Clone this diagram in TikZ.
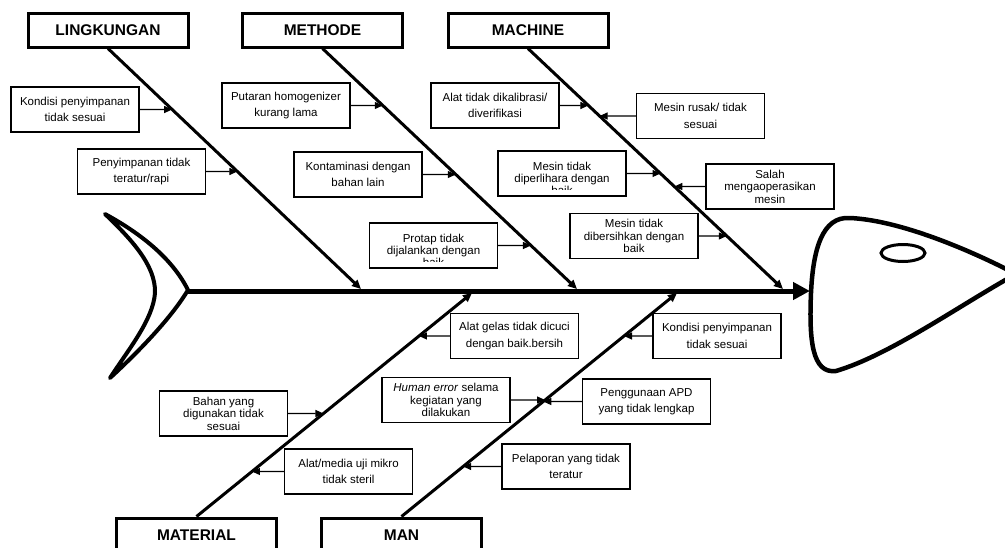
\documentclass[tikz,border=0pt]{standalone}
\usepackage{fontspec}
\setmainfont{Liberation Sans}
\usetikzlibrary{arrows.meta}

\tikzset{
  category/.style={draw, line width=3pt, minimum width=160pt, minimum height=34pt, inner sep=0pt,
    font=\bfseries\fontsize{15.5}{18}\selectfont},
  cause/.style={draw, line width=1.2pt, minimum width=128pt, minimum height=45pt, inner sep=1pt,
    align=center, font=\fontsize{11.5}{16.5}\selectfont},
  causethree/.style={cause, font=\fontsize{11.5}{12.5}\selectfont},
  causelines/.style={align=center, inner sep=0pt, font=\fontsize{11.5}{12}\selectfont},
  bone/.style={line width=3pt, -{Triangle[length=9pt,width=8pt]}},
  feed/.style={line width=1.1pt, -{Triangle[length=8pt,width=7pt]}},
}

\begin{document}
\begin{tikzpicture}[x=1pt, y=-1pt]
    \path[use as bounding box, clip] (0,0) rectangle (1005,547);

    \node[category] (lingk) at (108,30) {LINGKUNGAN};
    \node[category] (meth) at (322.5,30) {METHODE};
    \node[category] (mach) at (528,30) {MACHINE};
    \node[category] (mat) at (196.5,535) {MATERIAL};
    \node[category] (man) at (401.5,535) {MAN};

    \coordinate (tail) at (188,291);
    \coordinate (head) at (810,291);
    \coordinate (lingkend) at (361,289);
    \coordinate (methend) at (577,289);
    \coordinate (machend) at (783,289);
    \coordinate (matend) at (472,293);
    \coordinate (manend) at (677,293);

    % tail and head
    \draw[line width=4pt, line join=round] (105,214) .. controls (140,233) and (172,258) .. (188,290)
      .. controls (170,320) and (135,355) .. (110,378)
      .. controls (128,350) and (153,320) .. (155,293)
      .. controls (156,265) and (130,238) .. (105,214) -- cycle;
    \draw[line width=4.5pt, line join=round] (1016,274) .. controls (960,245) and (895,220) .. (850,218)
      .. controls (822,216) and (813,250) .. (811,293)
      .. controls (809,340) and (812,374) .. (836,371)
      .. controls (890,355) and (960,305) .. (1016,274);
    \draw[line width=3pt] (903,253) ellipse [x radius=22pt, y radius=8.5pt];

    \draw[line width=5pt, -{Triangle[length=17pt,width=17pt]}] (tail) -- (head);

    \draw[bone] (lingk.south) -- (lingkend);
    \draw[bone] (meth.south) -- (methend);
    \draw[bone] (mach.south) -- (machend);
    \draw[bone] (mat.north) -- (matend);
    \draw[bone] (man.north) -- (manend);

    \node[cause] (lingk1) at (75,109.5) {Kondisi penyimpanan\\tidak sesuai};
    \node[cause] (lingk2) at (141.5,171.5) {Penyimpanan tidak\\teratur/rapi};

    \node[cause] (meth1) at (286,105.5) {Putaran homogenizer\\kurang lama};
    \node[cause] (meth2) at (358,174.5) {Kontaminasi dengan\\bahan lain};
    \node[cause] (meth3) at (433.5,245.5) {};
    \begin{scope}
      \clip ([yshift=7pt]meth3.south west) rectangle (meth3.north east);
      \node[causelines, anchor=north] (meth3txt) at ([yshift=-12pt]meth3.north) {Protap tidak\\dijalankan dengan\\baik};
    \end{scope}

    \node[cause] (mach1) at (495,105.5) {Alat tidak dikalibrasi/\\diverifikasi};
    \node[cause] (mach2) at (700.5,116) {Mesin rusak/ tidak\\sesuai};
    \node[cause] (mach3) at (562,173.5) {};
    \begin{scope}
      \clip ([yshift=7pt]mach3.south west) rectangle (mach3.north east);
      \node[causelines, anchor=north] (mach3txt) at ([yshift=-12pt]mach3.north) {Mesin tidak\\diperlihara dengan\\baik};
    \end{scope}
    \node[causethree] (mach4) at (770,186.5) {Salah\\mengaoperasikan\\mesin};
    \node[causethree] (mach5) at (634,236) {Mesin tidak\\dibersihkan dengan\\baik};

    \node[cause] (mat1) at (514.5,336) {Alat gelas tidak dicuci\\dengan baik.bersih};
    \node[causethree] (mat2) at (223.5,413.5) {Bahan yang\\digunakan tidak\\sesuai};
    \node[cause] (mat3) at (348.5,471.5) {Alat/media uji mikro\\tidak steril};

    \node[cause] (man1) at (717,336) {Kondisi penyimpanan\\tidak sesuai};
    \node[causethree] (man2) at (446,400) {\textit{Human error} selama\\kegiatan yang\\dilakukan};
    \node[cause] (man3) at (646.5,401.5) {Penggunaan APD\\yang tidak lengkap};
    \node[cause] (man4) at (566,466.5) {Pelaporan yang tidak\\teratur};

    \draw[feed] (lingk1.east) -- (intersection of lingk.south--lingkend and lingk1.west--lingk1.east);
    \draw[feed] (lingk2.east) -- (intersection of lingk.south--lingkend and lingk2.west--lingk2.east);
    \draw[feed] (meth1.east) -- (intersection of meth.south--methend and meth1.west--meth1.east);
    \draw[feed] (meth2.east) -- (intersection of meth.south--methend and meth2.west--meth2.east);
    \draw[feed] (meth3.east) -- (intersection of meth.south--methend and meth3.west--meth3.east);
    \draw[feed] (mach1.east) -- (intersection of mach.south--machend and mach1.west--mach1.east);
    \draw[feed] (mach2.west) -- (intersection of mach.south--machend and mach2.west--mach2.east);
    \draw[feed] (mach3.east) -- (intersection of mach.south--machend and mach3.west--mach3.east);
    \draw[feed] (mach4.west) -- (intersection of mach.south--machend and mach4.west--mach4.east);
    \draw[feed] (mach5.east) -- (intersection of mach.south--machend and mach5.west--mach5.east);
    \draw[feed] (mat1.west) -- (intersection of mat.north--matend and mat1.west--mat1.east);
    \draw[feed] (mat2.east) -- (intersection of mat.north--matend and mat2.west--mat2.east);
    \draw[feed] (mat3.west) -- (intersection of mat.north--matend and mat3.west--mat3.east);
    \draw[feed] (man1.west) -- (intersection of man.north--manend and man1.west--man1.east);
    \draw[feed] (man2.east) -- (intersection of man.north--manend and man2.west--man2.east);
    \draw[feed] (man3.west) -- (intersection of man.north--manend and man3.west--man3.east);
    \draw[feed] (man4.west) -- (intersection of man.north--manend and man4.west--man4.east);
\end{tikzpicture}
\end{document}
